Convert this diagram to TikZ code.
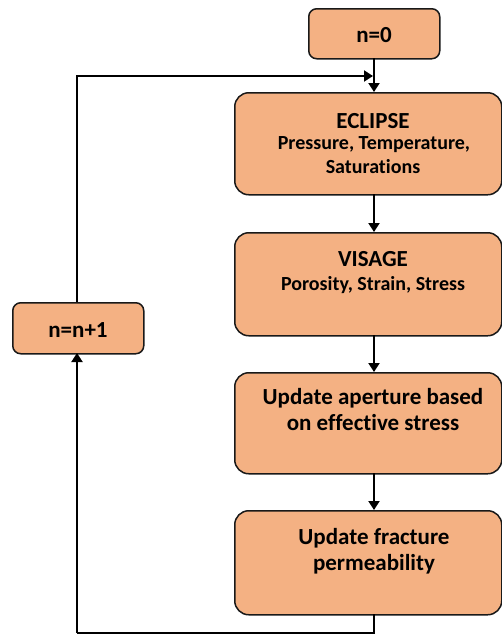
\documentclass[tikz,border=0pt]{standalone}
\usepackage{fontspec}
\setmainfont{Carlito}[Ligatures=NoCommon]
\usetikzlibrary{arrows.meta}
\definecolor{boxfill}{RGB}{244,177,131}
\definecolor{boxline}{RGB}{25,25,25}
\begin{document}
\begin{tikzpicture}[x=1pt,y=-1pt,
  box/.style={draw=boxline, fill=boxfill, line width=1.5pt, rounded corners=14pt, anchor=north west, inner sep=0pt},
  smallbox/.style={box, rounded corners=8pt},
  titletxt/.style={font=\fontsize{23}{25}\selectfont\bfseries, inner sep=0pt, anchor=base},
  subtxt/.style={font=\fontsize{20}{22}\selectfont\bfseries, inner sep=0pt, anchor=base},
  flow/.style={line width=2pt, draw=black, -{Triangle[length=9pt,width=11pt]}},
  plain/.style={line width=2pt, draw=black}]
\useasboundingbox (0,0) rectangle (502,635);

% boxes
\node[smallbox, minimum width=131pt, minimum height=50pt] (n0) at (308,8) {};
\node[box, minimum width=267pt, minimum height=102pt] (ecl) at (234,92) {};
\node[box, minimum width=267pt, minimum height=103pt] (vis) at (234,232) {};
\node[box, minimum width=267pt, minimum height=101pt] (ape) at (234,372) {};
\node[box, minimum width=267pt, minimum height=104pt] (fra) at (234,510) {};
\node[smallbox, minimum width=131pt, minimum height=51pt] (inc) at (12,302) {};

% texts
\node[titletxt] (tn0) at (374,42) {n=0};
\node[titletxt] (tinc) at (78,337) {n=n+1};
\node[titletxt] (tecl) at (373,128) {ECLIPSE};
\node[subtxt] (secl1) at (374,149) {Pressure, Temperature,};
\node[subtxt] (secl2) at (373,173) {Saturations};
\node[titletxt] (tvis) at (373,266) {VISAGE};
\node[subtxt] (svis) at (373,290) {Porosity, Strain, Stress};
\node[titletxt] (tape1) at (373,404) {Update aperture based};
\node[titletxt] (tape2) at (373,430) {on effective stress};
\node[titletxt] (tfra1) at (374,544) {Update fracture};
\node[titletxt] (tfra2) at (374,570) {permeability};

% connectors
\coordinate (join) at (374,76);
\coordinate (bot) at (374,633);
\draw[flow] (374,58) -- (374,92);
\draw[flow] (374,194) -- (374,232);
\draw[flow] (374,335) -- (374,372);
\draw[flow] (374,473) -- (374,510);
\draw[plain] (374,614) -- (bot) -- (77,633);
\draw[flow] (77,633) -- (77,353);
\draw[flow] (77,302) -- (77,76) -- (373,76);
\end{tikzpicture}
\end{document}
